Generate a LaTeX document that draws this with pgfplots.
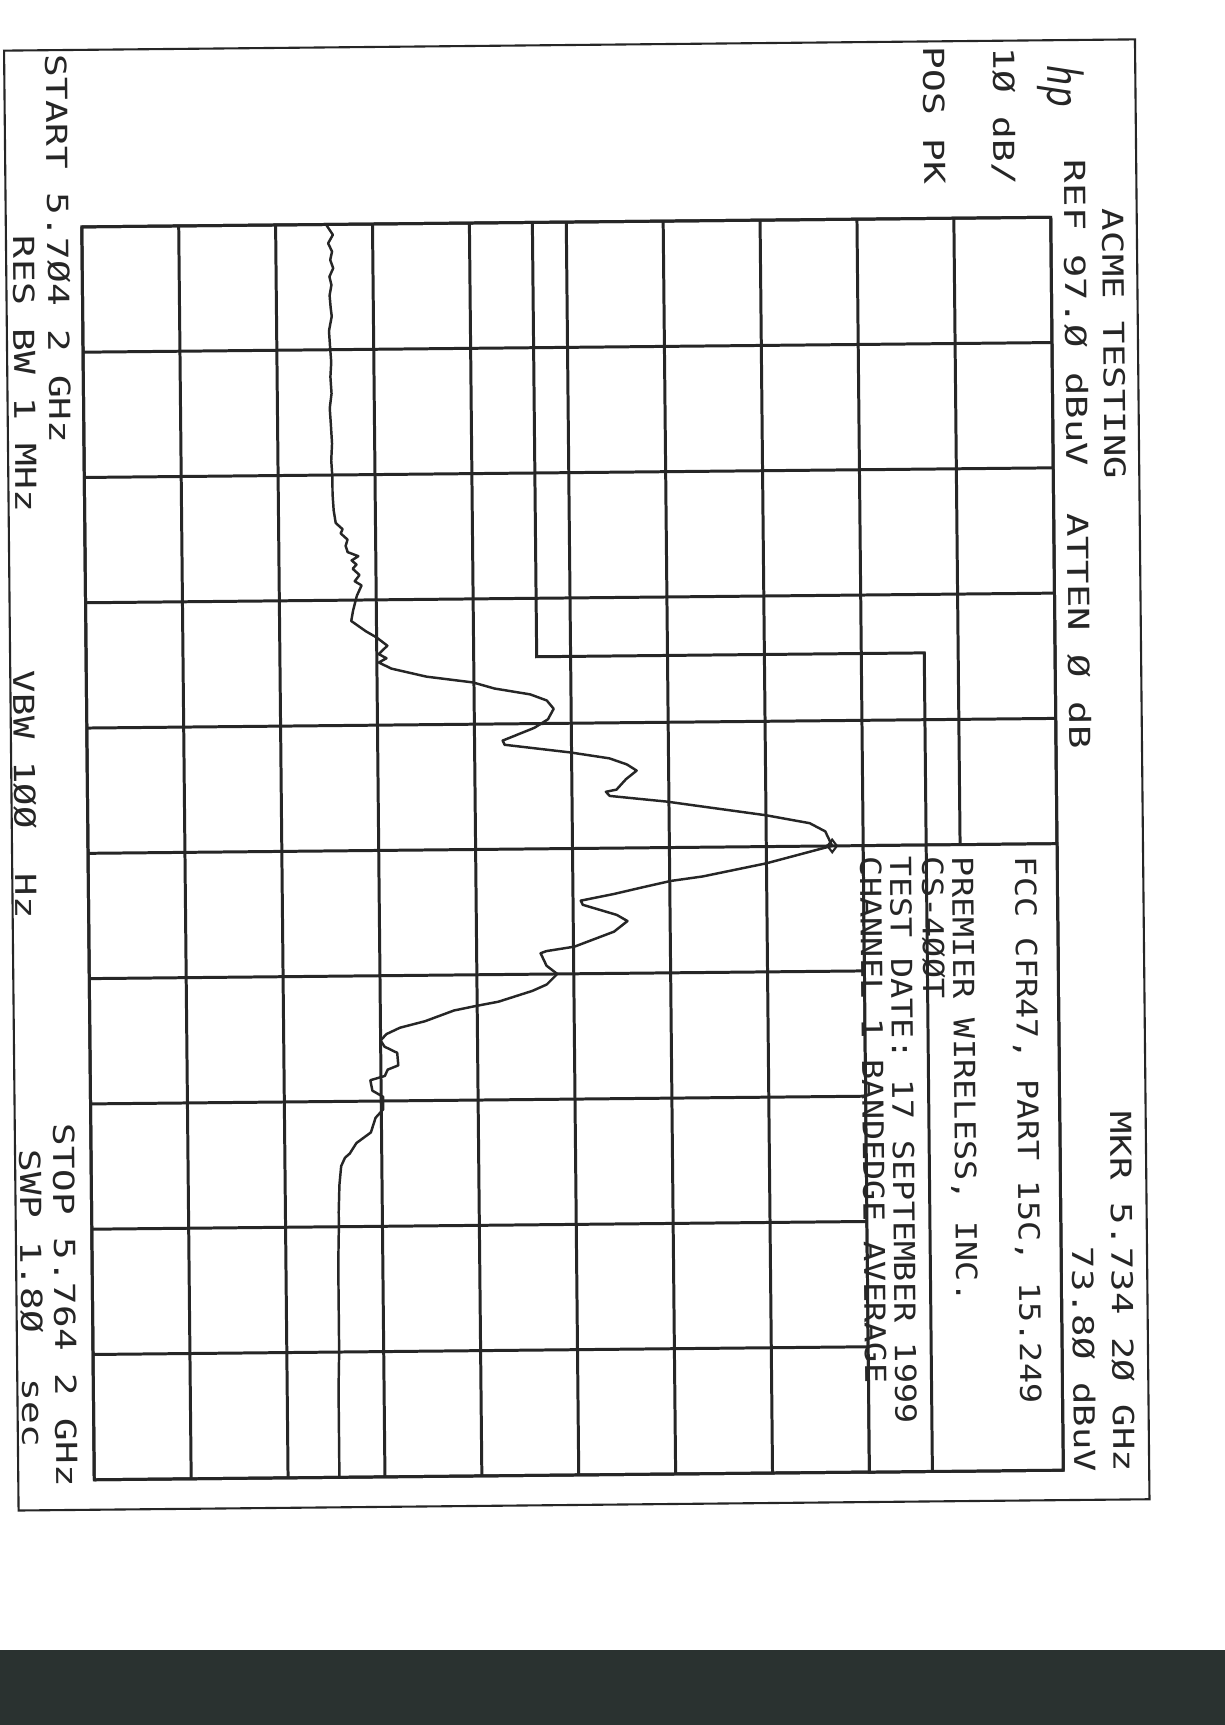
\documentclass[border=0pt]{standalone}
\usepackage{pgfplots}
\pgfplotsset{compat=1.18}
\usepackage{fontspec}
\setmainfont{DejaVu Sans}
\setmonofont{DejaVu Sans Mono}
\definecolor{ink}{RGB}{38,38,38}
\definecolor{band}{RGB}{42,50,48}
% \T{x px}{y px}{xscale}{text}
\newcommand{\T}[4]{\node[rotate=-89.43, anchor=base west, inner sep=0pt, outer sep=0pt, text=ink,
  font=\ttfamily\fontsize{8.25}{10}\selectfont] at ({#1/100},{(1725-#2)/100}) {\scalebox{#3}[1]{#4}};}
\pgfplotstableread{
dB MHz
22.2 5704.2
22.9 5704.7
22.4 5705.1
22.8 5705.5
22.6 5705.9
22.9 5706.3
22.5 5706.7
22.7 5707.1
22.5 5707.6
22.6 5708.2
22.7 5708.6
22.4 5709.3
22.5 5710.1
22.6 5710.8
22.5 5711.5
22.6 5712.3
22.4 5713.0
22.5 5713.8
22.6 5714.7
22.5 5715.5
22.6 5716.3
22.6 5717.1
22.7 5717.9
22.9 5718.5
23.6 5718.8
23.4 5719.0
24.1 5719.3
23.9 5719.6
24.1 5719.9
25.2 5720.1
24.5 5720.3
25.0 5720.5
24.6 5720.7
25.3 5721.0
24.8 5721.3
25.5 5721.5
25.0 5722.0
24.6 5722.7
24.4 5723.2
25.9 5723.7
27.0 5724.0
28.1 5724.4
27.2 5724.8
28.0 5725.0
27.2 5725.2
28.5 5725.5
32.1 5725.9
36.9 5726.2
39.1 5726.5
42.8 5726.8
44.5 5727.1
45.2 5727.5
44.6 5728.0
43.2 5728.4
39.9 5729.0
40.1 5729.2
46.9 5729.6
50.9 5729.9
52.7 5730.2
53.7 5730.5
52.6 5730.9
52.2 5731.1
51.6 5731.4
50.5 5731.5
50.9 5731.7
56.8 5732.0
59.7 5732.2
67.0 5732.7
71.5 5733.1
73.1 5733.5
73.8 5734.2
72.9 5734.3
67.0 5735.0
60.4 5735.6
57.1 5735.8
54.1 5736.1
51.2 5736.4
47.8 5736.7
48.0 5736.9
51.5 5737.4
52.6 5737.7
51.2 5738.2
47.1 5738.9
44.2 5739.1
43.6 5739.2
44.2 5739.8
45.3 5740.2
44.2 5740.7
42.7 5741.0
39.2 5741.5
36.8 5741.7
34.6 5741.9
31.6 5742.4
29.0 5742.7
27.6 5743.0
27.0 5743.3
27.4 5743.6
28.7 5743.9
28.8 5744.5
27.7 5744.7
27.4 5745.0
25.9 5745.2
26.1 5745.7
27.2 5746.0
27.2 5746.6
26.4 5747.0
25.9 5747.7
24.4 5748.2
23.7 5748.7
23.2 5748.9
22.8 5749.3
22.6 5750.2
22.5 5751.5
22.5 5752.2
22.4 5754.0
22.4 5756.0
22.4 5758.2
22.3 5760.0
22.3 5762.0
22.3 5764.2
}\trace
\begin{document}
\begin{tikzpicture}
\useasboundingbox (0,0) rectangle (12.25,17.25);
\fill[white] (0,0) rectangle (12.25,17.25);
\fill[band] (0,0) rectangle (12.25,0.75);
\begin{scope}[rotate around={0.57:(5.72,8.77)}]
\draw[ink, line width=0.6pt] (0.12,16.80) rectangle (11.43,2.20);
\begin{axis}[at={(0.88cm,2.50cm)}, anchor=south west, scale only axis,
  width=9.69cm, height=12.53cm,
  xmin=-3, xmax=97, ymin=5704.2, ymax=5764.2, y dir=reverse,
  xtick={-3,7,17,27,37,47,57,67,77,87,97},
  ytick={5704.2,5710.2,5716.2,5722.2,5728.2,5734.2,5740.2,5746.2,5752.2,5758.2,5764.2},
  xticklabels={}, yticklabels={}, major tick length=0pt,
  grid=major, grid style={ink, line width=0.85pt},
  axis line style={ink, line width=0.85pt}, clip=false]
\fill[white] (axis cs:77,5734.2) rectangle (axis cs:97,5764.2);
\draw[ink, line width=0.85pt] (axis cs:77,5734.2) rectangle (axis cs:97,5764.2);
\addplot[ink, line width=0.85pt] coordinates {(43.5,5704.2) (43.5,5725) (83.5,5725) (83.5,5764.2)};
\addplot[ink, line width=0.7pt, line join=round] table[x=dB, y=MHz] {\trace};
\addplot[ink, only marks, mark=diamond, mark size=1.8pt, mark options={line width=0.6pt}] coordinates {(73.8,5734.2)};
\end{axis}
\end{scope}
% header
\T{1102}{209}{1.29}{ACME TESTING}
\T{1064}{160}{1.35}{REF 97.Ø dBuV~~ATTEN Ø dB}
\T{1110}{1112}{1.29}{MKR 5.734 2Ø GHz}
\T{1072}{1247}{1.29}{73.8Ø dBuV}
\node[rotate=-89.43, inner sep=0pt, text=ink, font=\sffamily\itshape\fontsize{15}{15}\selectfont] at (10.61,{(1725-84)/100}) {\scalebox{0.78}[1]{hp}};
\T{993}{48}{1.31}{1Ø dB/}
\T{923}{47}{1.31}{POS PK}
% annotation
\T{1015}{857}{1.16}{FCC CFR47, PART 15C, 15.249}
\T{952}{857}{1.16}{PREMIER WIRELESS, INC.}
\T{922}{857}{1.16}{CS-4ØØT}
\T{890}{857}{1.16}{TEST DATE: 17 SEPTEMBER 1999}
\T{860}{857}{1.16}{CHANNEL 1 BANDEDGE AVERAGE}
% bottom
\T{46}{55}{1.31}{START 5.7Ø4 2 GHz}
\T{13}{236}{1.32}{RES BW 1 MHz}
\T{13}{671}{1.29}{VBW 1ØØ~~Hz}
\T{53}{1124}{1.30}{STOP 5.764 2 GHz}
\T{20}{1150}{1.31}{SWP 1.8Ø~~sec}
\end{tikzpicture}
\end{document}
